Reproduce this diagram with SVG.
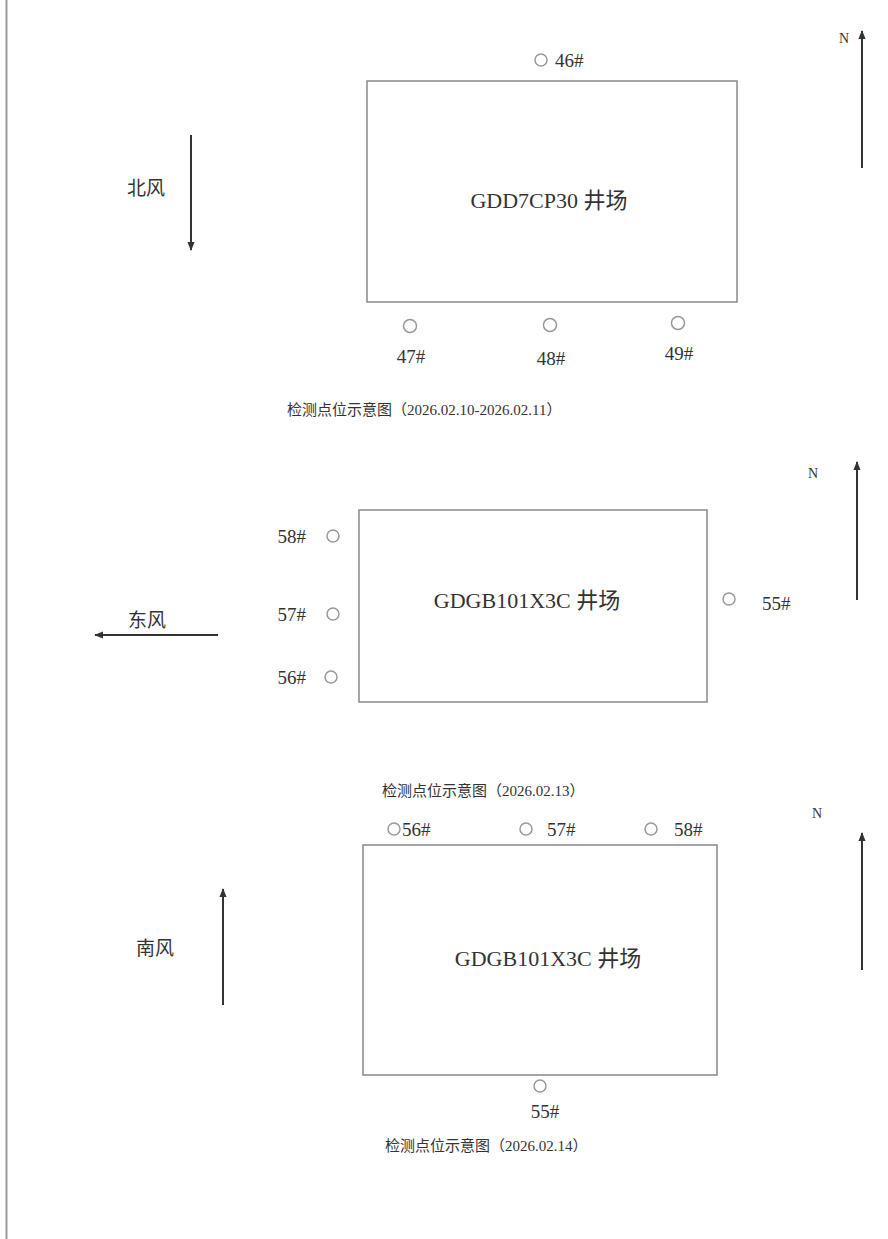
<svg xmlns="http://www.w3.org/2000/svg" width="888" height="1239" viewBox="0 0 888 1239">
<defs>
<marker id="ah" viewBox="0 0 10 10" refX="9" refY="5" markerWidth="9" markerHeight="9" orient="auto" markerUnits="userSpaceOnUse">
<path d="M0,1 L10,5 L0,9 Z" fill="#333"/>
</marker>
<style>
.t{font-family:"Liberation Serif","Noto Sans CJK SC",serif;fill:#333;}
.lbl{font-size:19px;}
.cap{font-size:15px;}
.name{font-size:22px;}
.wind{font-size:19px;}
.n{font-size:14px;}
.site{fill:none;stroke:#888;stroke-width:1.5;}
.pt{fill:none;stroke:#999;stroke-width:1.5;}
.arr{stroke:#333;stroke-width:2;fill:none;marker-end:url(#ah);}
</style>
</defs>
<rect x="0" y="0" width="888" height="1239" fill="#fff"/>
<line x1="6.5" y1="0" x2="6.5" y2="1239" stroke="#999" stroke-width="2"/>

<!-- Section 1 -->
<g id="site1">
<rect class="site" x="367" y="81" width="370" height="221"/>
<text class="t name" x="549" y="208" text-anchor="middle">GDD7CP30 井场</text>
</g>
<g id="p46"><circle class="pt" cx="541" cy="60" r="6"/><text class="t lbl" x="555" y="67">46#</text></g>
<g id="p47"><circle class="pt" cx="410" cy="326" r="6.5"/><text class="t lbl" x="411" y="363" text-anchor="middle">47#</text></g>
<g id="p48"><circle class="pt" cx="550" cy="325" r="6.5"/><text class="t lbl" x="551" y="365" text-anchor="middle">48#</text></g>
<g id="p49"><circle class="pt" cx="678" cy="323" r="6.5"/><text class="t lbl" x="679" y="360" text-anchor="middle">49#</text></g>
<g id="wind1"><text class="t wind" x="127" y="195">北风</text></g>
<g id="north1"><text class="t n" x="839" y="43">N</text></g>
<text class="t cap" x="287" y="415">检测点位示意图（2026.02.10-2026.02.11）</text>

<!-- Section 2 -->
<g id="site2">
<rect class="site" x="359" y="510" width="348" height="192"/>
<text class="t name" x="527" y="608" text-anchor="middle">GDGB101X3C 井场</text>
</g>
<g id="p58a"><circle class="pt" cx="333" cy="536" r="6"/><text class="t lbl" x="306" y="543" text-anchor="end">58#</text></g>
<g id="p57a"><circle class="pt" cx="333" cy="614" r="6"/><text class="t lbl" x="306" y="621" text-anchor="end">57#</text></g>
<g id="p56a"><circle class="pt" cx="331" cy="677" r="6"/><text class="t lbl" x="306" y="684" text-anchor="end">56#</text></g>
<g id="p55a"><circle class="pt" cx="729" cy="599" r="6"/><text class="t lbl" x="762" y="610">55#</text></g>
<g id="wind2"><text class="t wind" x="128" y="627">东风</text></g>
<g id="north2"><text class="t n" x="808" y="478">N</text></g>
<text class="t cap" x="382" y="796">检测点位示意图（2026.02.13）</text>

<!-- Section 3 -->
<g id="site3">
<rect class="site" x="363" y="845" width="354" height="230"/>
<text class="t name" x="548" y="966" text-anchor="middle">GDGB101X3C 井场</text>
</g>
<g id="p56b"><circle class="pt" cx="394" cy="829" r="6"/><text class="t lbl" x="402" y="836">56#</text></g>
<g id="p57b"><circle class="pt" cx="526" cy="829" r="6"/><text class="t lbl" x="547" y="836">57#</text></g>
<g id="p58b"><circle class="pt" cx="651" cy="829" r="6"/><text class="t lbl" x="674" y="836">58#</text></g>
<g id="p55b"><circle class="pt" cx="540" cy="1086" r="6"/><text class="t lbl" x="545" y="1118" text-anchor="middle">55#</text></g>
<g id="wind3"><text class="t wind" x="136" y="955">南风</text></g>
<g id="north3"><text class="t n" x="812" y="818">N</text></g>
<text class="t cap" x="385" y="1151">检测点位示意图（2026.02.14）</text>

<g id="connectors">
<line class="arr" x1="191" y1="135" x2="191" y2="250"/>
<line class="arr" x1="862" y1="168" x2="862" y2="31"/>
<line class="arr" x1="218" y1="635" x2="95" y2="635"/>
<line class="arr" x1="857" y1="600" x2="857" y2="462"/>
<line class="arr" x1="223" y1="1005" x2="223" y2="889"/>
<line class="arr" x1="862" y1="970" x2="862" y2="833"/>
</g>
</svg>
